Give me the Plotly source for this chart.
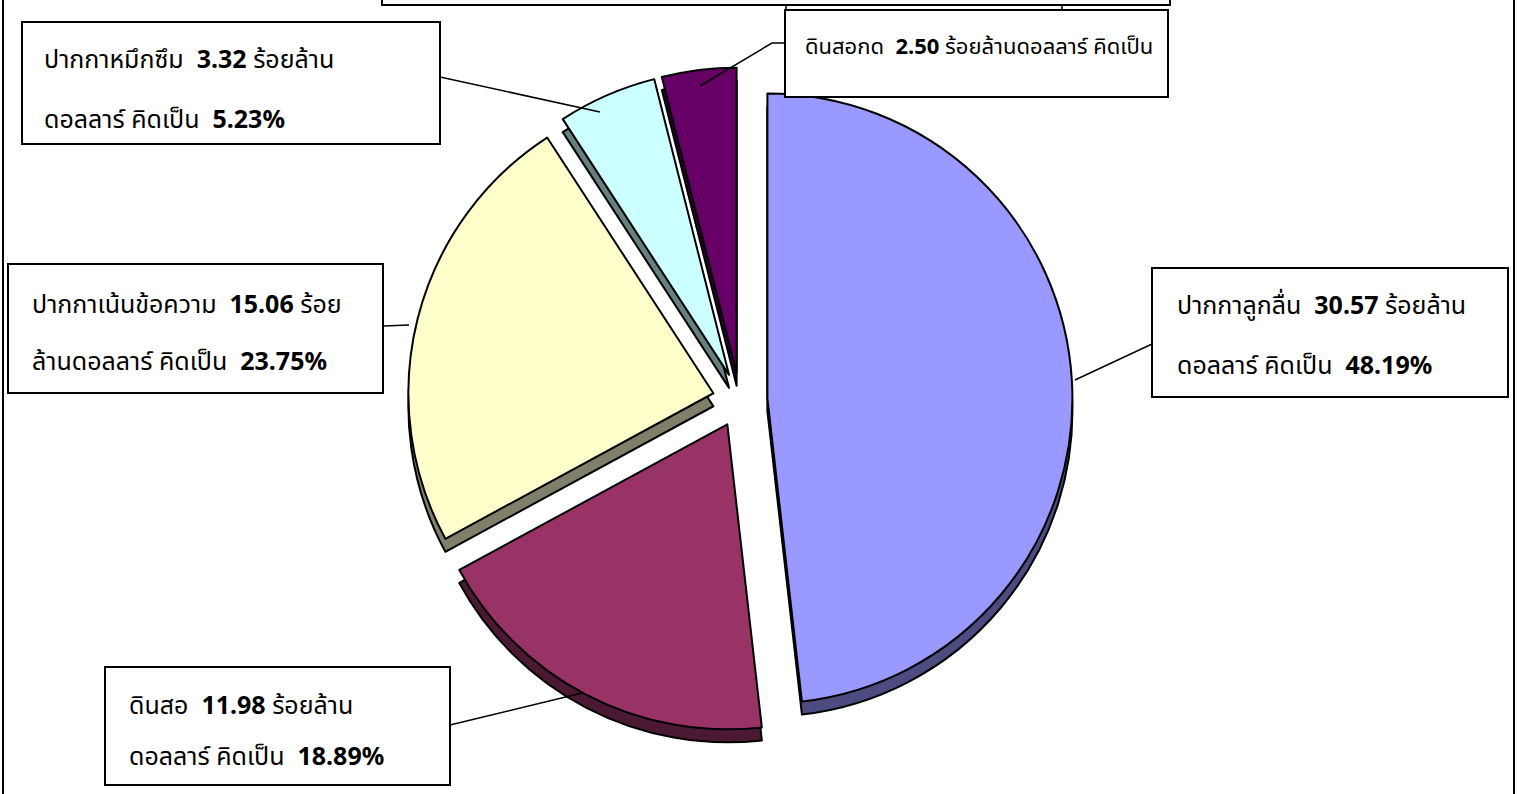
import plotly.graph_objects as go

W, H = 1517, 794

# Export value by product (hundred million USD), clockwise from 12 o'clock
categories = ["ปากกาลูกลื่น", "ดินสอ", "ปากกาเน้นข้อความ", "ปากกาหมึกซึม", "ดินสอกด"]
values = [30.57, 11.98, 15.06, 3.32, 2.50]
percent_labels = ["48.19%", "18.89%", "23.75%", "5.23%", None]

face_colors = ["#9999FF", "#993366", "#FFFFCC", "#CCFFFF", "#660066"]
side_colors = ["#4C4C80", "#4C1933", "#80806A", "#668080", "#330033"]

unit_phrase = "ร้อยล้านดอลลาร์ คิดเป็น"
wrap_at = [8, 8, 4, 8, len(unit_phrase)]

NB = "\u00a0"

# ---- pie geometry (pixels) ----
cx, cy, radius = 740, 400, 305
explode = 0.09
depth = 13
half = radius * (1 + explode)


def px_x(x):
    return x / W


def px_y(y):
    return 1 - y / H


def pie(colors, shift):
    return go.Pie(
        labels=categories,
        values=values,
        sort=False,
        direction="clockwise",
        rotation=0,
        pull=[explode] * len(values),
        marker=dict(colors=colors, line=dict(color="black", width=2)),
        textinfo="none",
        hoverinfo="label+value+percent",
        showlegend=False,
        domain=dict(
            x=[px_x(cx - half), px_x(cx + half)],
            y=[px_y(cy + half + shift), px_y(cy - half + shift)],
        ),
    )


fig = go.Figure()
fig.add_trace(pie(side_colors, depth))
fig.add_trace(pie(face_colors, 0))

# ---- label boxes: rect (x0, y0, x1, y1), text left, line centres, text size ----
boxes = [
    dict(rect=(1152, 268, 1508, 397), tx=1175, ty=(304, 364), size=25),
    dict(rect=(105, 667, 450, 785), tx=127, ty=(704, 755), size=25),
    dict(rect=(8, 264, 383, 393), tx=30, ty=(303, 360), size=25),
    dict(rect=(22, 22, 440, 144), tx=42, ty=(58, 118), size=25),
    dict(rect=(785, 10, 1168, 97), tx=803, ty=(45, 105), size=22),
]

leaders = [
    [(1152, 344), (1075, 380)],
    [(450, 725), (582, 693)],
    [(383, 326), (409, 325)],
    [(440, 77), (600, 112)],
    [(785, 43), (772, 43), (700, 86)],
]

shapes = []
annotations = []
family = "Noto Sans, Noto Sans Thai, sans-serif"

for name, v, pct, cut, box, pts in zip(categories, values, percent_labels, wrap_at, boxes, leaders):
    x0, y0, x1, y1 = box["rect"]
    shapes.append(dict(type="rect", xref="paper", yref="paper",
                       x0=px_x(x0), x1=px_x(x1), y0=px_y(y1), y1=px_y(y0),
                       line=dict(color="black", width=2), fillcolor="white", layer="above"))
    line1 = f"{name}{NB}{NB}<b>{v:.2f}</b>{NB}{unit_phrase[:cut]}"
    rest = unit_phrase[cut:]
    line2 = rest
    if pct is not None:
        line2 = f"{rest}{NB}{NB}<b>{pct}</b>"
    for txt, ty in zip((line1, line2), box["ty"]):
        if not txt:
            continue
        annotations.append(dict(xref="paper", yref="paper", x=px_x(box["tx"]), y=px_y(ty),
                                xanchor="left", yanchor="middle", text=txt,
                                showarrow=False,
                                font=dict(family=family, size=box["size"], color="black")))
    path = "M " + " L ".join(f"{px_x(a)},{px_y(b)}" for a, b in pts)
    shapes.append(dict(type="path", xref="paper", yref="paper", path=path,
                       line=dict(color="black", width=1.5)))

# title box running off the top edge
shapes.append(dict(type="rect", xref="paper", yref="paper",
                   x0=px_x(382), x1=px_x(1170), y0=px_y(5), y1=px_y(-30),
                   line=dict(color="black", width=2), fillcolor="white"))
for vx in (786, 1062):
    shapes.append(dict(type="line", xref="paper", yref="paper",
                       x0=px_x(vx), x1=px_x(vx), y0=px_y(10), y1=px_y(5),
                       line=dict(color="black", width=1.5)))

# outer frame sides
for fx in (3, 1514):
    shapes.append(dict(type="line", xref="paper", yref="paper",
                       x0=px_x(fx), x1=px_x(fx), y0=0, y1=1,
                       line=dict(color="black", width=2)))

fig.update_layout(
    width=W, height=H,
    margin=dict(l=0, r=0, t=0, b=0),
    paper_bgcolor="white",
    plot_bgcolor="white",
    showlegend=False,
    shapes=shapes,
    annotations=annotations,
)

fig.write_html("out.html")
